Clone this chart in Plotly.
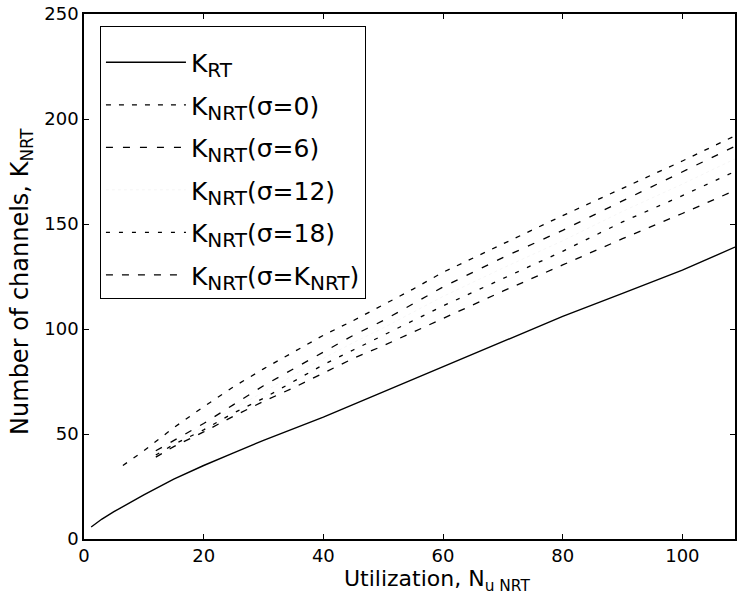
import plotly.graph_objects as go

# ---- data ----
x_rt = [1.2, 3, 5, 8, 10, 15, 20, 25, 30, 40, 50, 60, 70, 80, 90, 100, 108.8]
k_rt = [5.7, 9.5, 13, 18, 21, 28.5, 35, 41, 47, 58, 70, 82, 94, 106, 117, 128, 139]

x_s0 = [6.5, 10, 15, 20, 25, 30, 35, 40, 45, 50, 55, 60, 70, 80, 90, 100, 108.8]
k_s0 = [35, 42, 53, 63, 72.5, 81, 89, 97, 104, 111.5, 119, 127, 140.5, 154, 167, 180, 192]

x_nrt = [12, 15, 20, 25, 30, 35, 40, 45, 50, 55, 60, 70, 80, 90, 100, 108.8]
k_s6 = [42, 47, 55, 64, 73, 81, 89, 97, 104, 112, 120, 134, 147, 161, 175, 187]
k_s12 = [41, 46, 53.5, 62, 70, 78, 86, 93.5, 100.5, 108, 115.5, 129, 142, 156, 169, 181]
k_s18 = [40, 45, 52, 60, 67, 75, 83, 90, 97, 104, 111, 124, 137, 151, 163.5, 175]
k_sK = [39, 44, 51, 58.5, 65.5, 72, 79, 86, 92, 98.5, 105, 118, 130.5, 143, 155, 166]

x_ticks = [0, 20, 40, 60, 80, 100]
y_ticks = [0, 50, 100, 150, 200, 250]

FONT = "DejaVu Sans"


def lsub(s):
    return '<sub><span style="font-size:20px">%s</span></sub>' % s


fig = go.Figure()
fig.add_trace(go.Scatter(x=x_rt, y=k_rt, mode="lines", name="K" + lsub("RT"),
                         line=dict(color="black", width=1.4), legendgroup="a"))
fig.add_trace(go.Scatter(x=x_s0, y=k_s0, mode="lines", name="K" + lsub("NRT") + "(σ=0)",
                         line=dict(color="black", width=1.3, dash="5px,8px"), legendgroup="b"))
fig.add_trace(go.Scatter(x=x_nrt, y=k_s6, mode="lines", name="K" + lsub("NRT") + "(σ=6)",
                         line=dict(color="black", width=1.3, dash="7px,10px"), legendgroup="c"))
fig.add_trace(go.Scatter(x=x_nrt, y=k_s12, mode="lines", name="K" + lsub("NRT") + "(σ=12)",
                         line=dict(color="rgba(0,0,0,0.04)", width=1, dash="dot"), legendgroup="d"))
fig.add_trace(go.Scatter(x=x_nrt, y=k_s18, mode="lines", name="K" + lsub("NRT") + "(σ=18)",
                         line=dict(color="black", width=1.3, dash="4px,9px"), legendgroup="e"))
fig.add_trace(go.Scatter(x=x_nrt, y=k_sK, mode="lines", name="K" + lsub("NRT") + "(σ=K" + lsub("NRT") + ")",
                         line=dict(color="black", width=1.3, dash="7px,9px"), legendgroup="f"))

axis_common = dict(showline=True, linecolor="black", linewidth=1.5, mirror="ticks",
                   ticks="inside", ticklen=5, tickcolor="black", showgrid=False,
                   zeroline=False, tickfont=dict(family=FONT, size=18, color="black"))

fig.update_layout(
    width=737, height=605,
    margin=dict(l=84, r=0, t=14, b=66),
    plot_bgcolor="white", paper_bgcolor="white",
    xaxis=dict(range=[0, 108.8], tickvals=x_ticks, **axis_common),
    yaxis=dict(range=[0, 250], tickvals=y_ticks, **axis_common),
    legend=dict(x=0.0245, y=0.978, xanchor="left", yanchor="top",
                bgcolor="white", bordercolor="black", borderwidth=1,
                font=dict(family=FONT, size=25, color="black"),
                title=dict(text="&nbsp;", font=dict(family=FONT, size=10)),
                itemwidth=80, tracegroupgap=7),
    annotations=[
        dict(text="Utilization, N<sub>u NRT</sub>", xref="paper", yref="paper",
             x=0.542, y=-0.047, xanchor="center", yanchor="top", showarrow=False,
             font=dict(family=FONT, size=22, color="black")),
        dict(text="Number of channels, K<sub>NRT</sub>", xref="paper", yref="paper",
             x=-0.095, y=0.49, xanchor="center", yanchor="middle", showarrow=False,
             textangle=-90, font=dict(family=FONT, size=24, color="black")),
    ],
)

fig.write_html("out.html")
